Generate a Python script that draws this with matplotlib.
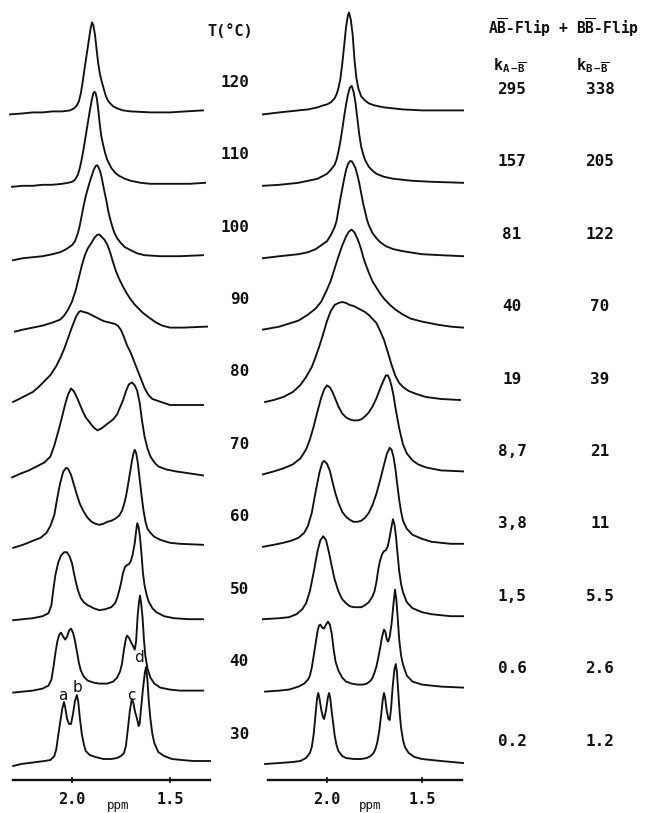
import matplotlib
matplotlib.use("Agg")
import matplotlib.pyplot as plt
from matplotlib.transforms import blended_transform_factory

plt.rcParams['mathtext.fontset'] = 'custom'
plt.rcParams['mathtext.rm'] = 'DejaVu Sans Mono:bold'
plt.rcParams['mathtext.it'] = 'DejaVu Sans Mono:bold'
plt.rcParams['mathtext.bf'] = 'DejaVu Sans Mono:bold'

# ---------------- data ----------------
temperatures = [30, 40, 50, 60, 70, 80, 90, 100, 110, 120]
k_AB = ['0.2', '0.6', '1,5', '3,8', '8,7', '19', '40', '81', '157', '295']
k_BB = ['1.2', '2.6', '5.5', '11', '21', '39', '70', '122', '205', '338']

# experimental spectra (left): chemical shift (ppm) / intensity (arb.)
exp30_ppm = [2.30, 2.26, 2.22, 2.18, 2.14, 2.11, 2.09, 2.08, 2.07, 2.06, 2.05, 2.041, 2.035, 2.025, 2.015, 2.005, 1.995, 1.985, 1.975, 1.968, 1.96, 1.95, 1.94, 1.93, 1.91, 1.88, 1.84, 1.80, 1.77, 1.75, 1.735, 1.725, 1.715, 1.705, 1.695, 1.688, 1.678, 1.668, 1.66, 1.655, 1.648, 1.638, 1.628, 1.622, 1.615, 1.608, 1.60, 1.59, 1.58, 1.56, 1.53, 1.49, 1.44, 1.38, 1.296]
exp30_int = [-2, 0, 1, 2, 3, 4, 8, 15, 29, 42, 55, 62, 57, 45, 40, 40, 50, 63, 69, 62, 46, 30, 20, 13, 9, 7, 5, 5, 6, 8, 11, 18, 35, 53, 65, 62, 52, 45, 38, 40, 55, 75, 92, 97, 83, 62, 45, 30, 21, 12, 8, 5, 4, 3, 3]
exp40_ppm = [2.30, 2.25, 2.20, 2.15, 2.12, 2.105, 2.095, 2.085, 2.075, 2.065, 2.056, 2.045, 2.035, 2.025, 2.015, 2.005, 1.995, 1.985, 1.975, 1.965, 1.955, 1.94, 1.92, 1.89, 1.86, 1.82, 1.79, 1.77, 1.755, 1.745, 1.735, 1.725, 1.719, 1.71, 1.70, 1.69, 1.68, 1.673, 1.665, 1.658, 1.653, 1.647, 1.64, 1.633, 1.626, 1.615, 1.60, 1.58, 1.55, 1.50, 1.45, 1.332]
exp40_int = [-1, 0, 1, 3, 6, 12, 24, 38, 50, 57, 59, 55, 52, 55, 61, 63, 59, 51, 40, 29, 21, 15, 11, 9, 8, 8, 10, 14, 20, 28, 42, 53, 56, 54, 50, 46, 42, 50, 76, 90, 96, 88, 74, 52, 36, 23, 14, 8, 4, 2, 1, 1]
exp50_ppm = [2.30, 2.25, 2.20, 2.15, 2.12, 2.105, 2.095, 2.085, 2.07, 2.055, 2.04, 2.026, 2.013, 2.00, 1.99, 1.98, 1.97, 1.955, 1.94, 1.92, 1.89, 1.86, 1.83, 1.80, 1.78, 1.77, 1.76, 1.75, 1.74, 1.73, 1.72, 1.71, 1.70, 1.69, 1.68, 1.673, 1.667, 1.66, 1.653, 1.645, 1.638, 1.63, 1.62, 1.61, 1.59, 1.57, 1.53, 1.48, 1.40, 1.332]
exp50_int = [-1, 0, 1, 3, 6, 14, 30, 44, 57, 64, 67, 67, 63, 56, 46, 37, 29, 21, 17, 14, 11, 9, 10, 12, 16, 21, 28, 36, 46, 52, 54, 55, 58, 65, 76, 88, 96, 92, 82, 64, 46, 34, 25, 18, 11, 7, 3, 1, 0, 0]
exp60_ppm = [2.30, 2.25, 2.20, 2.16, 2.13, 2.11, 2.09, 2.075, 2.06, 2.045, 2.03, 2.02, 2.005, 1.99, 1.975, 1.96, 1.94, 1.92, 1.90, 1.88, 1.86, 1.84, 1.82, 1.80, 1.78, 1.76, 1.745, 1.735, 1.725, 1.715, 1.705, 1.695, 1.687, 1.68, 1.673, 1.665, 1.655, 1.645, 1.635, 1.625, 1.615, 1.60, 1.58, 1.55, 1.50, 1.45, 1.332]
exp60_int = [-1, 2, 6, 9, 14, 21, 32, 49, 64, 75, 79, 78, 72, 62, 52, 43, 35, 29, 25, 23, 22, 23, 25, 26, 28, 31, 36, 42, 50, 61, 73, 85, 93, 97, 94, 85, 68, 51, 36, 25, 18, 14, 10, 7, 4, 3, 2]
exp70_ppm = [2.306, 2.26, 2.22, 2.18, 2.14, 2.11, 2.09, 2.07, 2.05, 2.035, 2.02, 2.005, 1.99, 1.975, 1.96, 1.945, 1.93, 1.91, 1.89, 1.87, 1.85, 1.83, 1.81, 1.79, 1.77, 1.755, 1.74, 1.725, 1.71, 1.694, 1.68, 1.668, 1.655, 1.643, 1.63, 1.615, 1.60, 1.58, 1.56, 1.52, 1.47, 1.40, 1.332]
exp70_int = [-3, 1, 4, 8, 12, 18, 29, 43, 58, 70, 80, 86, 83, 77, 70, 63, 57, 52, 47, 44, 46, 49, 52, 55, 60, 67, 74, 83, 90, 92, 89, 84, 72, 54, 38, 26, 18, 12, 8, 5, 3, 1, -1]
exp80_ppm = [2.301, 2.27, 2.24, 2.20, 2.17, 2.14, 2.11, 2.08, 2.06, 2.04, 2.02, 2.00, 1.98, 1.965, 1.955, 1.94, 1.92, 1.90, 1.88, 1.86, 1.84, 1.82, 1.80, 1.78, 1.765, 1.75, 1.735, 1.72, 1.70, 1.69, 1.67, 1.65, 1.63, 1.61, 1.59, 1.56, 1.53, 1.50, 1.40, 1.332]
exp80_int = [0, 3, 6, 10, 15, 21, 27, 36, 44, 53, 64, 75, 85, 90, 91, 90, 89, 87, 85, 83, 81, 80, 79, 78, 76, 72, 65, 57, 49, 44, 34, 24, 14, 7, 3, 1, -1, -3, -3, -3]
exp90_ppm = [2.291, 2.25, 2.20, 2.15, 2.10, 2.06, 2.04, 2.02, 2.00, 1.98, 1.965, 1.95, 1.935, 1.92, 1.90, 1.885, 1.87, 1.86, 1.85, 1.835, 1.82, 1.805, 1.79, 1.775, 1.76, 1.74, 1.72, 1.70, 1.68, 1.66, 1.64, 1.62, 1.60, 1.57, 1.54, 1.50, 1.43, 1.311]
exp90_int = [-2, 0, 2, 4, 7, 10, 14, 20, 28, 40, 52, 64, 74, 81, 87, 92, 95, 95, 93, 90, 85, 77, 67, 58, 51, 43, 36, 30, 25, 21, 17, 14, 11, 7, 4, 2, 2, 3]
exp100_ppm = [2.301, 2.25, 2.20, 2.15, 2.10, 2.06, 2.03, 2.00, 1.985, 1.97, 1.96, 1.95, 1.94, 1.93, 1.92, 1.91, 1.90, 1.89, 1.88, 1.872, 1.865, 1.855, 1.847, 1.835, 1.825, 1.815, 1.805, 1.795, 1.785, 1.77, 1.75, 1.73, 1.70, 1.67, 1.63, 1.55, 1.45, 1.332]
exp100_int = [-3, -1, 0, 1, 3, 5, 8, 12, 16, 24, 32, 42, 52, 61, 68, 75, 81, 87, 91, 92, 90, 85, 78, 66, 57, 46, 38, 31, 25, 19, 14, 10, 7, 4, 2, 1, 1, 2]
exp110_ppm = [2.306, 2.25, 2.20, 2.15, 2.10, 2.05, 2.02, 2.00, 1.985, 1.97, 1.96, 1.95, 1.94, 1.93, 1.92, 1.91, 1.90, 1.892, 1.886, 1.88, 1.873, 1.866, 1.858, 1.85, 1.84, 1.83, 1.82, 1.80, 1.78, 1.76, 1.73, 1.70, 1.65, 1.60, 1.50, 1.40, 1.321]
exp110_int = [-2, -1, -1, 0, 0, 1, 2, 3, 5, 10, 17, 26, 37, 49, 61, 73, 84, 91, 93, 92, 86, 75, 60, 48, 39, 31, 25, 17, 12, 9, 6, 4, 2, 1, 1, 1, 2]
exp120_ppm = [2.316, 2.25, 2.20, 2.15, 2.10, 2.05, 2.01, 1.99, 1.975, 1.965, 1.955, 1.945, 1.935, 1.925, 1.915, 1.905, 1.898, 1.891, 1.883, 1.875, 1.867, 1.858, 1.85, 1.84, 1.83, 1.82, 1.81, 1.79, 1.77, 1.74, 1.70, 1.60, 1.50, 1.42, 1.332]
exp120_int = [-2, -1, 0, 0, 1, 1, 2, 4, 7, 11, 19, 31, 45, 58, 71, 84, 90, 87, 78, 64, 50, 39, 32, 25, 18, 13, 10, 6, 4, 2, 1, 0, 0, 1, 2]

# simulated spectra (right)
sim30_ppm = [2.326, 2.25, 2.18, 2.14, 2.11, 2.09, 2.08, 2.07, 2.06, 2.052, 2.046, 2.04, 2.03, 2.02, 2.015, 2.005, 1.995, 1.989, 1.983, 1.975, 1.967, 1.96, 1.95, 1.94, 1.92, 1.90, 1.86, 1.82, 1.79, 1.77, 1.755, 1.745, 1.735, 1.725, 1.715, 1.706, 1.700, 1.694, 1.686, 1.677, 1.670, 1.663, 1.655, 1.645, 1.638, 1.632, 1.625, 1.617, 1.61, 1.60, 1.59, 1.57, 1.54, 1.50, 1.40, 1.284]
sim30_int = [0, 1, 2, 3, 6, 11, 17, 30, 50, 66, 71, 66, 54, 46, 45, 54, 67, 71, 66, 52, 40, 29, 19, 13, 8, 6, 5, 5, 6, 8, 11, 15, 22, 33, 49, 65, 71, 66, 54, 45, 44, 55, 76, 95, 100, 92, 72, 50, 36, 24, 17, 11, 7, 5, 3, 1]
sim40_ppm = [2.326, 2.25, 2.20, 2.15, 2.12, 2.10, 2.09, 2.08, 2.07, 2.06, 2.05, 2.042, 2.035, 2.025, 2.016, 2.005, 1.995, 1.985, 1.975, 1.965, 1.955, 1.94, 1.92, 1.90, 1.87, 1.84, 1.81, 1.79, 1.77, 1.76, 1.75, 1.74, 1.73, 1.72, 1.71, 1.70, 1.693, 1.685, 1.678, 1.67, 1.66, 1.65, 1.642, 1.635, 1.628, 1.62, 1.61, 1.60, 1.58, 1.55, 1.50, 1.40, 1.284]
sim40_int = [0, 1, 2, 5, 8, 12, 16, 24, 36, 48, 60, 66, 67, 64, 63, 67, 70, 67, 58, 42, 30, 21, 14, 10, 8, 7, 7, 8, 11, 14, 19, 25, 34, 44, 55, 62, 60, 52, 50, 55, 68, 88, 102, 92, 74, 52, 36, 27, 16, 10, 7, 5, 4]
sim50_ppm = [2.337, 2.25, 2.20, 2.16, 2.13, 2.11, 2.09, 2.07, 2.05, 2.035, 2.02, 2.005, 1.99, 1.975, 1.96, 1.94, 1.92, 1.90, 1.88, 1.86, 1.84, 1.82, 1.80, 1.78, 1.76, 1.75, 1.74, 1.73, 1.72, 1.71, 1.70, 1.69, 1.68, 1.67, 1.66, 1.653, 1.645, 1.637, 1.63, 1.62, 1.61, 1.60, 1.58, 1.55, 1.50, 1.45, 1.35, 1.284]
sim50_int = [0, 1, 2, 5, 10, 16, 28, 47, 68, 79, 83, 79, 67, 53, 40, 28, 20, 16, 13, 12, 12, 12, 14, 17, 23, 28, 37, 50, 59, 65, 68, 69, 73, 82, 93, 100, 95, 83, 68, 48, 35, 27, 17, 11, 7, 5, 3, 3]
sim60_ppm = [2.337, 2.28, 2.23, 2.19, 2.15, 2.12, 2.10, 2.08, 2.06, 2.04, 2.025, 2.015, 2.00, 1.985, 1.97, 1.955, 1.94, 1.92, 1.90, 1.88, 1.86, 1.84, 1.82, 1.80, 1.78, 1.76, 1.74, 1.72, 1.70, 1.685, 1.67, 1.66, 1.65, 1.64, 1.63, 1.62, 1.61, 1.60, 1.58, 1.55, 1.50, 1.45, 1.35, 1.284]
sim60_int = [0, 2, 4, 6, 9, 14, 21, 34, 55, 74, 84, 86, 83, 76, 64, 53, 44, 35, 30, 27, 25, 25, 26, 29, 34, 42, 53, 67, 82, 93, 99, 97, 90, 78, 62, 47, 35, 26, 18, 12, 8, 5, 3, 3]
sim70_ppm = [2.337, 2.28, 2.23, 2.18, 2.14, 2.11, 2.09, 2.07, 2.05, 2.03, 2.015, 2.00, 1.985, 1.97, 1.955, 1.94, 1.92, 1.90, 1.88, 1.86, 1.84, 1.82, 1.80, 1.78, 1.76, 1.74, 1.72, 1.70, 1.69, 1.68, 1.67, 1.66, 1.65, 1.64, 1.62, 1.60, 1.58, 1.55, 1.52, 1.48, 1.40, 1.284]
sim70_int = [0, 3, 6, 10, 16, 25, 35, 48, 63, 77, 85, 89, 87, 82, 75, 68, 61, 57, 55, 54, 54, 55, 58, 62, 68, 76, 86, 95, 99, 99, 95, 88, 79, 67, 46, 30, 21, 14, 10, 7, 4, 3]
sim80_ppm = [2.326, 2.28, 2.23, 2.18, 2.14, 2.11, 2.08, 2.06, 2.04, 2.02, 2.00, 1.98, 1.96, 1.94, 1.92, 1.90, 1.88, 1.86, 1.84, 1.82, 1.80, 1.78, 1.76, 1.74, 1.72, 1.70, 1.68, 1.66, 1.64, 1.62, 1.60, 1.57, 1.53, 1.48, 1.40, 1.30]
sim80_int = [0, 2, 5, 10, 17, 25, 35, 45, 56, 68, 81, 91, 97, 99, 100, 99, 97, 96, 94, 92, 90, 87, 83, 79, 71, 62, 50, 37, 26, 19, 15, 11, 8, 5, 3, 2]
sim90_ppm = [2.337, 2.25, 2.20, 2.15, 2.10, 2.06, 2.03, 2.00, 1.98, 1.96, 1.94, 1.92, 1.90, 1.885, 1.87, 1.855, 1.84, 1.83, 1.82, 1.81, 1.80, 1.78, 1.76, 1.74, 1.72, 1.70, 1.67, 1.64, 1.60, 1.56, 1.50, 1.42, 1.35, 1.284]
sim90_int = [0, 3, 6, 9, 15, 21, 28, 40, 49, 61, 73, 84, 93, 98, 100, 97, 91, 86, 80, 73, 67, 57, 48, 42, 36, 31, 25, 20, 15, 11, 8, 5, 3, 2]
sim100_ppm = [2.337, 2.25, 2.15, 2.10, 2.06, 2.03, 2.00, 1.98, 1.96, 1.95, 1.94, 1.93, 1.92, 1.91, 1.90, 1.89, 1.88, 1.87, 1.86, 1.85, 1.84, 1.83, 1.82, 1.81, 1.80, 1.79, 1.78, 1.76, 1.74, 1.72, 1.69, 1.65, 1.60, 1.50, 1.40, 1.284]
sim100_int = [-1, 1, 3, 5, 8, 12, 16, 22, 30, 36, 47, 58, 68, 78, 87, 93, 96, 96, 93, 89, 82, 74, 64, 54, 46, 38, 32, 24, 19, 15, 11, 8, 6, 3, 2, 1]
sim110_ppm = [2.337, 2.25, 2.15, 2.10, 2.05, 2.02, 2.00, 1.98, 1.96, 1.95, 1.94, 1.93, 1.92, 1.91, 1.90, 1.89, 1.88, 1.87, 1.86, 1.85, 1.84, 1.83, 1.82, 1.81, 1.80, 1.78, 1.76, 1.74, 1.70, 1.65, 1.55, 1.45, 1.284]
sim110_int = [-1, 0, 2, 4, 6, 9, 11, 15, 20, 25, 33, 43, 55, 68, 80, 90, 97, 99, 93, 82, 66, 50, 38, 31, 25, 18, 14, 11, 8, 6, 4, 3, 2]
sim120_ppm = [2.337, 2.25, 2.15, 2.10, 2.05, 2.02, 2.00, 1.98, 1.96, 1.95, 1.94, 1.93, 1.92, 1.91, 1.90, 1.89, 1.884, 1.875, 1.865, 1.855, 1.845, 1.835, 1.82, 1.80, 1.78, 1.75, 1.70, 1.60, 1.50, 1.284]
sim120_int = [-2, 0, 2, 3, 5, 7, 8, 10, 14, 18, 24, 33, 48, 66, 85, 97, 100, 93, 78, 52, 34, 24, 16, 12, 9, 7, 5, 3, 2, 2]

# peak assignment labels on the 30 °C experimental trace
peak_labels = ['a', 'b', 'c', 'd']
peak_label_ppm = [2.046, 1.974, 1.699, 1.658]
peak_label_int = [69, 77, 69, 107]

exp_ppm = [exp30_ppm, exp40_ppm, exp50_ppm, exp60_ppm, exp70_ppm, exp80_ppm, exp90_ppm, exp100_ppm, exp110_ppm, exp120_ppm]
exp_int = [exp30_int, exp40_int, exp50_int, exp60_int, exp70_int, exp80_int, exp90_int, exp100_int, exp110_int, exp120_int]
sim_ppm = [sim30_ppm, sim40_ppm, sim50_ppm, sim60_ppm, sim70_ppm, sim80_ppm, sim90_ppm, sim100_ppm, sim110_ppm, sim120_ppm]
sim_int = [sim30_int, sim40_int, sim50_int, sim60_int, sim70_int, sim80_int, sim90_int, sim100_int, sim110_int, sim120_int]

# ---------------- layout ----------------
W, H = 648, 813
fig = plt.figure(figsize=(W / 100, H / 100), dpi=100)
fig.patch.set_facecolor('white')

base0 = 16.0
step = 72.4
ink = '#111111'
mono = 'DejaVu Sans Mono'

axL = fig.add_axes([13 / W, 33 / H, 197 / W, 780 / H])
axR = fig.add_axes([268 / W, 33 / H, 194 / W, 780 / H])

for ax, lim, xlab in ((axL, (2.301, 1.296), 0.533), (axR, (2.3105, 1.2895), 0.526)):
    ax.set_xlim(*lim)
    ax.set_ylim(0, 780)
    ax.patch.set_visible(False)
    for s in ('top', 'left', 'right'):
        ax.spines[s].set_visible(False)
    ax.spines['bottom'].set_linewidth(1.7)
    ax.spines['bottom'].set_color(ink)
    ax.set_yticks([])
    ax.set_xticks([2.0, 1.5], ['2.0', '1.5'])
    ax.tick_params(axis='x', direction='inout', length=5, width=1.2, pad=6,
                   labelsize=11, colors=ink)
    for lbl in ax.get_xticklabels():
        lbl.set_fontfamily(mono)
        lbl.set_fontweight('bold')
    ax.set_xlabel('ppm', fontsize=9, family=mono, color=ink)
    ax.xaxis.set_label_coords(xlab, -0.024)

for i in range(len(temperatures)):
    off = base0 + step * i
    axL.plot(exp_ppm[i], [v + off for v in exp_int[i]], color=ink, lw=1.35,
             clip_on=False, solid_joinstyle='round')
    axR.plot(sim_ppm[i], [v + off for v in sim_int[i]], color=ink, lw=1.35,
             clip_on=False, solid_joinstyle='round')

for lab, x, y in zip(peak_labels, peak_label_ppm, peak_label_int):
    axL.text(x, base0 + y, lab, ha='center', va='center', fontsize=11,
             family='DejaVu Sans', color=ink)

transL = blended_transform_factory(fig.transFigure, axL.transData)
transR = blended_transform_factory(fig.transFigure, axR.transData)
for i, t in enumerate(temperatures):
    off = base0 + step * i
    axL.text(249 / W, off + 30, str(t), transform=transL, ha='right', va='center',
             fontsize=11.5, family=mono, fontweight='bold', color=ink, clip_on=False)
    axR.text(512 / W, off + 23, k_AB[i], transform=transR, ha='center', va='center',
             fontsize=11.5, family=mono, fontweight='bold', color=ink, clip_on=False)
    axR.text(600 / W, off + 23, k_BB[i], transform=transR, ha='center', va='center',
             fontsize=11.5, family=mono, fontweight='bold', color=ink, clip_on=False)

fig.text(230 / W, 1 - 32 / H, 'T(°C)', ha='center', va='center', fontsize=11,
         family=mono, fontweight='bold', color=ink)
fig.text(564 / W, 1 - 28 / H, r'A$\overline{\mathrm{B}}$-Flip + B$\overline{\mathrm{B}}$-Flip',
         ha='center', va='center', fontsize=10.5, family=mono, fontweight='bold', color=ink)
fig.text(510 / W, 1 - 66 / H, r'k$_{\mathrm{A-\overline{B}}}$', ha='center', va='center',
         fontsize=11, family=mono, fontweight='bold', color=ink)
fig.text(593 / W, 1 - 66 / H, r'k$_{\mathrm{B-\overline{B}}}$', ha='center', va='center',
         fontsize=11, family=mono, fontweight='bold', color=ink)

fig.savefig('out.png', dpi=100, facecolor='white')
